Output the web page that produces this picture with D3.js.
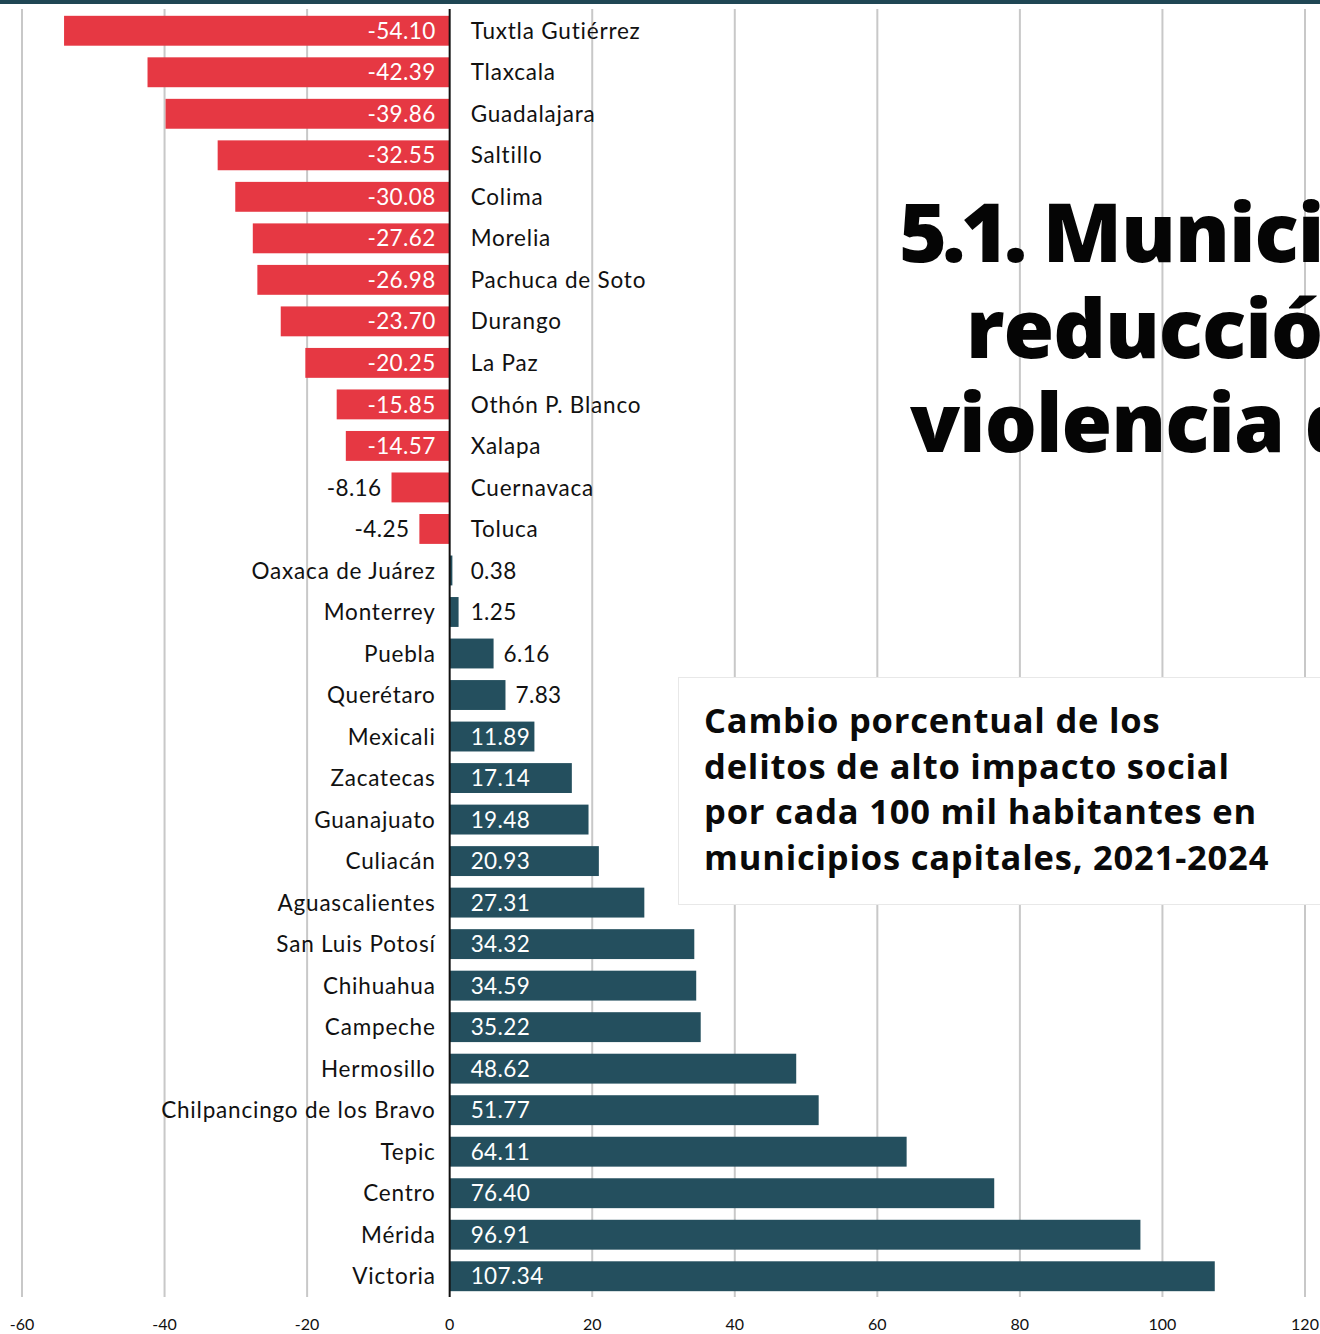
<!DOCTYPE html>
<html><head><meta charset="utf-8">
<script src="https://cdn.jsdelivr.net/npm/d3@7"></script>
<style>
html,body{margin:0;padding:0;background:#fff;overflow:hidden;}
svg{display:block;}
</style></head>
<body>
<svg id="chart" width="1320" height="1334"></svg>
<script>
const categories = ["Tuxtla Gutiérrez","Tlaxcala","Guadalajara","Saltillo","Colima","Morelia","Pachuca de Soto","Durango","La Paz","Othón P. Blanco","Xalapa","Cuernavaca","Toluca","Oaxaca de Juárez","Monterrey","Puebla","Querétaro","Mexicali","Zacatecas","Guanajuato","Culiacán","Aguascalientes","San Luis Potosí","Chihuahua","Campeche","Hermosillo","Chilpancingo de los Bravo","Tepic","Centro","Mérida","Victoria"];
const values = [-54.10,-42.39,-39.86,-32.55,-30.08,-27.62,-26.98,-23.70,-20.25,-15.85,-14.57,-8.16,-4.25,0.38,1.25,6.16,7.83,11.89,17.14,19.48,20.93,27.31,34.32,34.59,35.22,48.62,51.77,64.11,76.40,96.91,107.34];
const xTicks = [-60,-40,-20,0,20,40,60,80,100,120];
const titleNums = ["5.1.", "", ""];
const titleLines = [" Municipios con", "reducción de la", "violencia de"];
const subtitleLines = ["Cambio porcentual de los","delitos de alto impacto social","por cada 100 mil habitantes en","municipios capitales, 2021-2024"];

const data = categories.map((c,i)=>({cat:c, v:values[i]}));
const svg = d3.select("#chart");
const FONT = "Lato, 'Noto Sans', sans-serif";
const RED = "#e63843", TEAL = "#244f5e";

const x = d3.scaleLinear().domain([-60,120]).range([22,1305]);
const y = d3.scaleBand().domain(categories).range([10,1297]).paddingInner(0.28).paddingOuter(0.14);

// top strip
svg.append("rect").attr("x",0).attr("y",0).attr("width",1320).attr("height",4).attr("fill","#1f4654");

// gridlines
svg.append("g").selectAll("line").data(xTicks.filter(t=>t!==0)).join("line")
  .attr("x1",d=>x(d)).attr("x2",d=>x(d)).attr("y1",9).attr("y2",1297)
  .attr("stroke","#c8c8c8").attr("stroke-width",2);

// bars
svg.append("g").selectAll("rect").data(data).join("rect")
  .attr("x",d=>x(Math.min(0,d.v))).attr("width",d=>Math.abs(x(d.v)-x(0)))
  .attr("y",d=>y(d.cat)).attr("height",y.bandwidth())
  .attr("fill",d=>d.v<0?RED:TEAL);

// zero line
svg.append("line").attr("x1",x(0)).attr("x2",x(0)).attr("y1",9).attr("y2",1297)
  .attr("stroke","#111").attr("stroke-width",2);

const z = x(0);
const cy = d=>y(d.cat)+y.bandwidth()/2;

// category labels
svg.append("g").selectAll("text").data(data).join("text")
  .attr("x",d=>d.v<0? z+21 : z-14)
  .attr("y",cy).attr("dy","0.36em")
  .attr("text-anchor",d=>d.v<0?"start":"end")
  .attr("font-family",FONT).attr("font-size",22.5).attr("letter-spacing",0.8).attr("fill","#111")
  .text(d=>d.cat);

// value labels
const fmt = v => (v<0?"-":"") + Math.abs(v).toFixed(2);
svg.append("g").selectAll("text").data(data).join("text")
  .each(function(d){
    const inside = Math.abs(d.v) > 10;
    const t = d3.select(this);
    let xx, anchor;
    if(d.v<0){
      anchor="end";
      xx = inside ? z-14 : x(d.v)-10;
    } else {
      anchor="start";
      xx = inside ? z+21 : Math.max(z+21, x(d.v)+10);
    }
    t.attr("x",xx).attr("text-anchor",anchor).attr("fill",inside?"#fff":"#111");
  })
  .attr("y",cy).attr("dy","0.36em")
  .attr("font-family",FONT).attr("font-size",22.5).attr("letter-spacing",0.4)
  .text(d=>fmt(d.v));

// x axis labels
svg.append("g").selectAll("text").data(xTicks).join("text")
  .attr("x",d=>x(d)).attr("y",1330)
  .attr("text-anchor","middle").attr("font-family",FONT).attr("font-size",16).attr("fill","#111")
  .text(d=>d);

// title
const titleX = [899, 966, 910];
const titleY = [262, 358, 452];
const tt = svg.append("g").selectAll("text").data(titleLines).join("text")
  .attr("x",(d,i)=>titleX[i]).attr("y",(d,i)=>titleY[i])
  .attr("font-family","'Open Sans', sans-serif").attr("font-weight",800).attr("font-size",82).attr("fill","#050505");
tt.each(function(d,i){
  const t = d3.select(this);
  if(titleNums[i]) t.append("tspan").attr("letter-spacing",-5).text(titleNums[i]);
  t.append("tspan").attr("letter-spacing",-1).text(d);
});

// subtitle box
svg.append("rect").attr("x",678.5).attr("y",677.5).attr("width",700).attr("height",227)
  .attr("fill","#fff").attr("stroke","#e8e8e8").attr("stroke-width",1);
svg.append("g").selectAll("text").data(subtitleLines).join("text")
  .attr("x",704).attr("y",(d,i)=>733+i*45.7)
  .attr("font-family","'Open Sans', sans-serif").attr("font-weight",700).attr("font-size",34.5).attr("letter-spacing",0.8).attr("fill","#0a0a0a")
  .text(d=>d);
</script>
</body></html>
